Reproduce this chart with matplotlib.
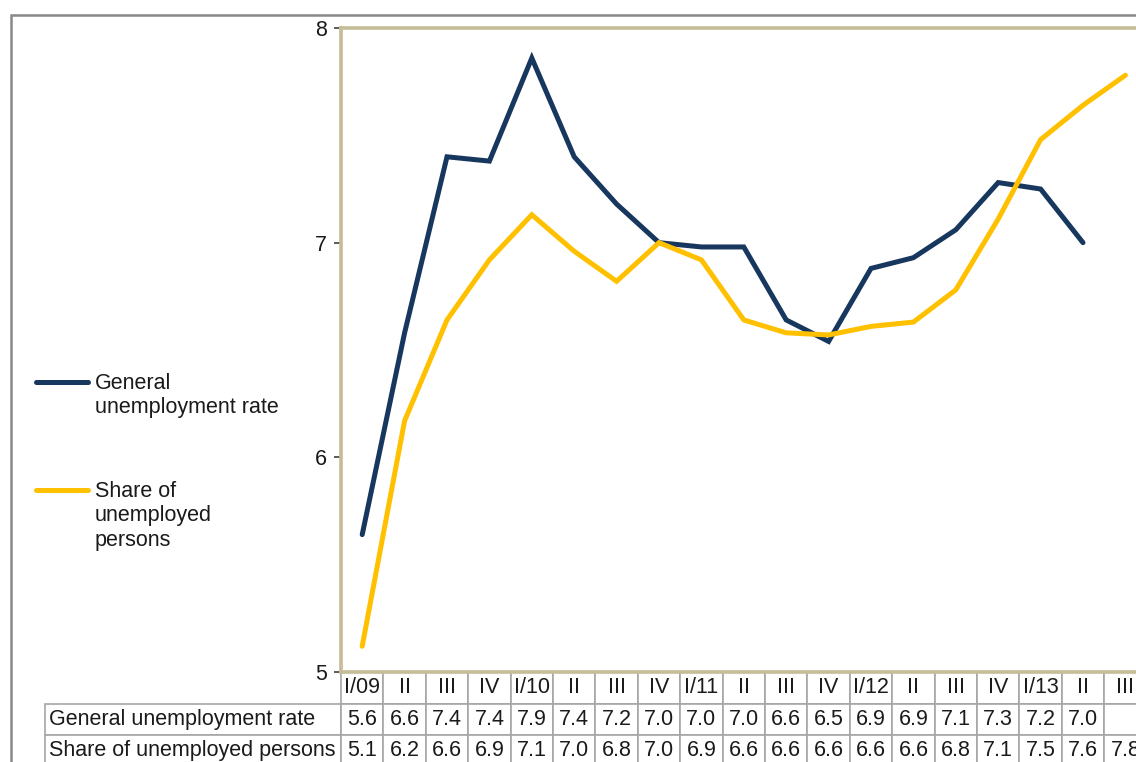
import matplotlib
matplotlib.use("Agg")
import numpy as np
import matplotlib.pyplot as plt
from matplotlib.patches import Rectangle
from matplotlib.table import Table
from matplotlib.legend_handler import HandlerLine2D

plt.rcParams["font.family"] = ["Liberation Sans", "DejaVu Sans"]

quarters = ["I/09", "II", "III", "IV", "I/10", "II", "III", "IV", "I/11", "II",
            "III", "IV", "I/12", "II", "III", "IV", "I/13", "II", "III"]
general_rate = [5.64, 6.58, 7.40, 7.38, 7.86, 7.40, 7.18, 7.00, 6.98, 6.98,
                6.64, 6.54, 6.88, 6.93, 7.06, 7.28, 7.25, 7.00, None]
share_unemployed = [5.12, 6.17, 6.64, 6.92, 7.13, 6.96, 6.82, 7.00, 6.92, 6.64,
                    6.58, 6.57, 6.61, 6.63, 6.78, 7.11, 7.48, 7.64, 7.78]
labels = ["General\nunemployment rate", "Share of\nunemployed\npersons"]
row_labels = ["General unemployment rate", "Share of unemployed persons"]

BLUE = "#17375e"
GOLD = "#ffc000"
TAN = "#c4bd97"
GRID = "#a6a6a6"
TXT = "#1a1a1a"
FS = 15.5


class TopLine(HandlerLine2D):
    # legend line level with the first line of a multi-line label
    def __init__(self, shift, **kw):
        super().__init__(**kw)
        self.shift = shift

    def create_artists(self, legend, orig_handle, xdescent, ydescent, width, height, fontsize, trans):
        arts = super().create_artists(legend, orig_handle, xdescent, ydescent, width, height, fontsize, trans)
        for a in arts:
            a.set_ydata(np.asarray(a.get_ydata()) + self.shift * fontsize)
        return arts


W, H = 1136, 762
fig = plt.figure(figsize=(W / 100, H / 100), dpi=100)
ax_left, ax_top, ax_bot = 341, 28, 672
col_w = 42.4
ax_w = col_w * len(quarters)
plot_h = ax_bot - ax_top
ax = fig.add_axes([ax_left / W, 1 - ax_bot / H, ax_w / W, plot_h / H])

# outer chart frame
fig.add_artist(Rectangle((11 / W, -0.1), 1.2, 1 - 15 / H + 0.1, transform=fig.transFigure,
                         fill=False, edgecolor="#888888", linewidth=1.8))

x = list(range(len(quarters)))
gx = [i for i, v in zip(x, general_rate) if v is not None]
gy = [v for v in general_rate if v is not None]
l1, = ax.plot(gx, gy, color=BLUE, lw=3.6, solid_joinstyle="miter", solid_capstyle="round")
l2, = ax.plot(x, share_unemployed, color=GOLD, lw=3.6, solid_joinstyle="miter", solid_capstyle="round")

ax.set_xlim(-0.5, len(quarters) - 0.5)
ax.set_ylim(5, 8)
ax.set_yticks([5, 6, 7, 8])
ax.set_xticks([])
ax.tick_params(axis="y", direction="out", length=5, width=1.2, color="#404040",
               labelsize=FS, labelcolor=TXT, pad=5)
for s in ["top", "bottom", "left"]:
    ax.spines[s].set_color(TAN)
    ax.spines[s].set_linewidth(2.6)
ax.spines["right"].set_visible(False)
ax.plot([0, 0], [0, 1], transform=ax.transAxes, color="#404040", lw=1.2, clip_on=False)

# data table under the chart (sizes in axes units; data columns span the axes width)
cell_text = [[f"{v:.1f}" if v is not None else "" for v in general_rate],
             [f"{v:.1f}" for v in share_unemployed]]
cw = col_w / ax_w
lw_ = 296 / ax_w
rh = 31.5 / plot_h
tbl = Table(ax, bbox=[0, -3 * rh, 1, 3 * rh])
for j, q in enumerate(quarters):
    tbl.add_cell(0, j, cw, rh, text=q, loc="center")
for i, row in enumerate(cell_text):
    c = tbl.add_cell(i + 1, -1, lw_, rh, text=row_labels[i], loc="left")
    c.PAD = 0.015
    for j, t in enumerate(row):
        tbl.add_cell(i + 1, j, cw, rh, text=t, loc="center")
ax.add_table(tbl)
tbl.auto_set_font_size(False)
tbl.set_fontsize(FS)
for cell in tbl.get_celld().values():
    cell.set_edgecolor(GRID)
    cell.set_linewidth(1.2)
    cell.get_text().set_color(TXT)
    cell.set_clip_on(False)

leg = fig.legend([l1, l2], labels, loc="upper left", bbox_to_anchor=(36 / W, 1 - 373 / H),
                 frameon=False, fontsize=FS, handlelength=2.4, handletextpad=0.34,
                 labelspacing=2.93, borderpad=0, borderaxespad=0,
                 handler_map={l1: TopLine(0.65), l2: TopLine(1.21)})
for t in leg.get_texts():
    t.set_color(TXT)

fig.savefig("out.png", dpi=100)
